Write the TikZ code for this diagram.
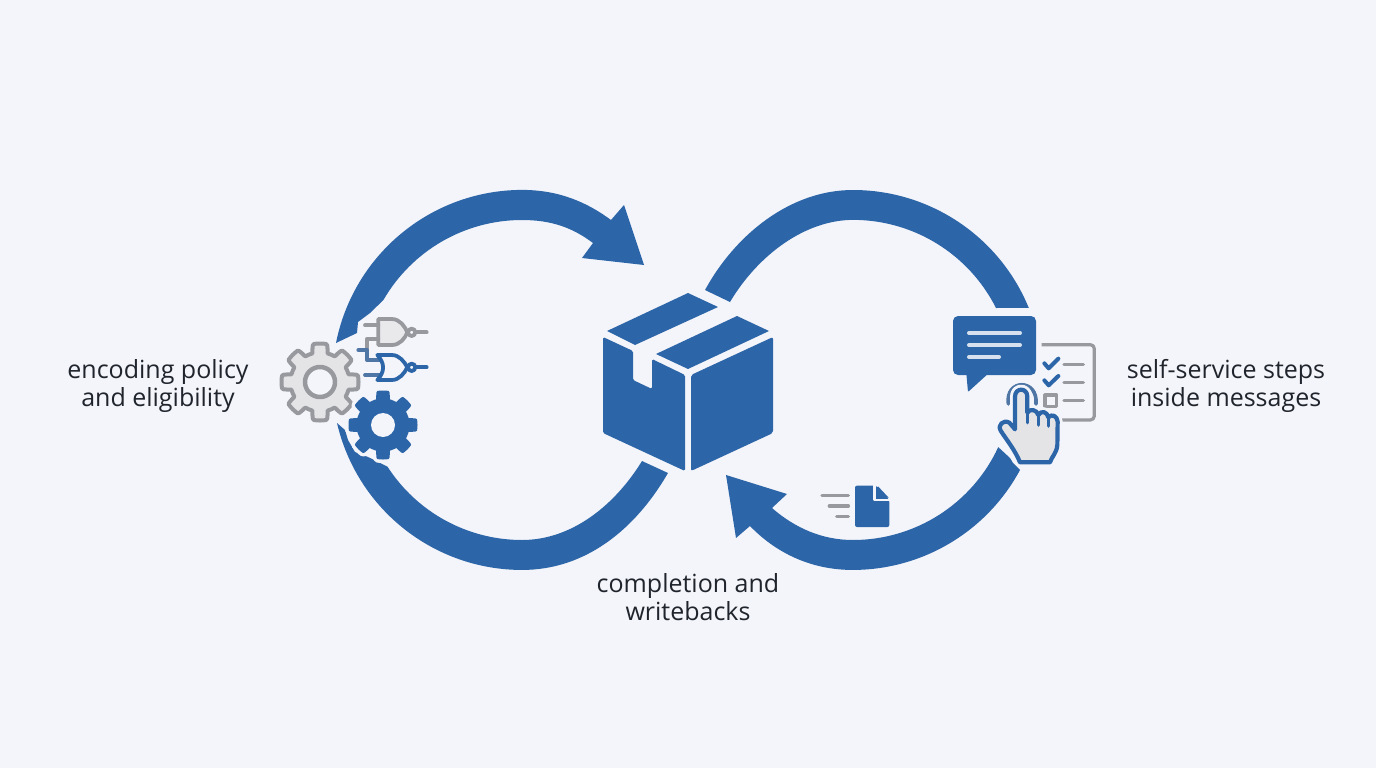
\documentclass[tikz,border=0pt]{standalone}
\usepackage{fontspec}
\setmainfont{Open Sans}
\definecolor{bg}{HTML}{F4F5FA}
\definecolor{bl}{HTML}{2C66A8}
\definecolor{gy}{HTML}{97999E}
\definecolor{lg}{HTML}{E4E4E6}
\definecolor{tx}{HTML}{20242C}
\definecolor{rg}{HTML}{4F76A4}
\tikzset{x=1pt,y=-1pt,
 lab/.style={font=\fontsize{25}{27.6}\selectfont,align=center,text=tx,inner sep=0},
 zoomA/.style={shift={(270,300)},x=.33333pt,y=-.33333pt},
 zoomB/.style={shift={(940,300)},x=.33333pt,y=-.33333pt},
 zoomC/.style={shift={(720,465)},x=.33333pt,y=-.33333pt},
 gatewire/.style={line width=3.8pt,line cap=round,line join=round},
 declare function={gu(\t)=abs(mod(\t+22.5,45)/45-0.5);
   gr(\t,\ro,\ri)=\ri+(\ro-\ri)*max(0,min(1,(0.335-gu(\t))/0.1));}}
\begin{document}
\begin{tikzpicture}[line join=round]
\useasboundingbox (0,0) rectangle (1376,768);
\fill[bg] (0,0) rectangle (1376,768);
% left ring, upper piece with arrowhead
\fill[bl] (336,343) arc[start angle=191.2,end angle=270,radius=190]
  .. controls (560,190) and (588,203) .. (611,220)
  -- (624,205) -- (644,265) -- (582,258) -- (593,243)
  .. controls (573,228) and (552,220) .. (522,220)
  arc[start angle=270,end angle=210,radius=160]
  -- (370,313) -- (358,322) -- (357,333) -- cycle;
% left ring, lower piece
\fill[bl] (337,423) arc[start angle=166.9,end angle=90,radius=190]
  .. controls (585,570) and (635,530) .. (668,473)
  -- (642,461)
  .. controls (615,505) and (572,540) .. (522,540)
  arc[start angle=90,end angle=147.2,radius=160]
  -- (368,457) -- (355,452) -- (348,440) -- (345,430) -- cycle;
% right ring, upper piece
\fill[bl] (705,290) .. controls (735,235) and (790,190) .. (853,190)
  arc[start angle=270,end angle=337.7,radius=190]
  -- (996,308)
  arc[start angle=333.3,end angle=270,radius=160]
  .. controls (805,220) and (758,255) .. (730,302) -- cycle;
% right ring, lower piece with arrowhead
\fill[bl] (1020,470) arc[start angle=28.3,end angle=90,radius=190]
  .. controls (810,570) and (775,552) .. (750,526)
  -- (736,538) -- (726,475) -- (787,494) -- (772,508)
  .. controls (795,528) and (822,540) .. (853,540)
  arc[start angle=90,end angle=24.8,radius=160]
  -- (1010,458) -- (1013,463) -- cycle;
% box
\fill[bl] (688,293) -- (718,307) -- (635,345) -- (607,331) -- cycle;
\fill[bl] (737,316) -- (769,331) -- (688,369) -- (656,354) -- cycle;
\fill[bl,rounded corners=2pt] (773,337) -- (773,433) -- (691,471) -- (691,375) -- cycle;
\fill[bl,rounded corners=1.5pt] (603,337) -- (633,351) -- (633,380) -- (652,389) -- (652,359)
  -- (685,375) -- (685,471) -- (603,433) -- cycle;
% grey gear
\draw[gy,line width=4pt,fill=lg] plot[domain=0:360,samples=193]
  ({320+gr(\x,38.5,29.5)*cos(\x)},{382+gr(\x,38.5,29.5)*sin(\x)}) -- cycle;
\draw[gy,line width=4.5pt,fill=bg] (320,382) circle[radius=15];
% blue gear
\draw[bg,line width=7pt,fill=bg] plot[domain=0:360,samples=193]
  ({383+gr(\x,34.5,26.5)*cos(\x)},{425+gr(\x,34.5,26.5)*sin(\x)}) -- cycle;
\fill[bl] plot[domain=0:360,samples=193]
  ({383+gr(\x,34.5,26.5)*cos(\x)},{425+gr(\x,34.5,26.5)*sin(\x)}) -- cycle;
\fill[bg] (383,425) circle[radius=12];
% logic gates
\begin{scope}[zoomA]
 \draw[gy,gatewire,fill=lg!70!bg] (325,57) -- (365,57) .. controls (390,57) and (405,80) .. (412,97)
   .. controls (405,115) and (390,135) .. (365,135) -- (325,135) -- cycle;
 \draw[gy,gatewire] (425,97) circle[radius=11];
 \draw[gy,gatewire] (436,97) -- (470,97);
 \draw[gy,gatewire] (285,76) -- (325,76);
 \draw[gy,gatewire] (325,118) -- (290,118) -- (290,150);
 \draw[rg,gatewire] (265,150) -- (290,150) -- (290,180) -- (330,180);
 \draw[rg,gatewire] (285,225) -- (335,225);
 \draw[bl,gatewire,fill=bg] (322,165) -- (365,165) .. controls (388,165) and (403,185) .. (412,202)
   .. controls (403,220) and (388,240) .. (365,240) -- (322,240)
   .. controls (345,215) and (345,190) .. (322,165) -- cycle;
 \draw[bl,gatewire] (425,202) circle[radius=11];
 \draw[bl,gatewire] (436,202) -- (470,202);
\end{scope}
% chat bubble
\fill[bl,rounded corners=5pt] (953,316) rectangle (1036,375);
\fill[bl,rounded corners=1pt] (966,370) -- (968,392) -- (990,372) -- cycle;
\draw[bg!85!bl,line width=4pt,line cap=round] (969,333) -- (1020,333);
\draw[bg!85!bl,line width=4pt,line cap=round] (969,345) -- (1020,345);
\draw[bg!85!bl,line width=4pt,line cap=round] (969,357) -- (999,357);
% checklist, touch, hand
\begin{scope}[zoomB]
 \draw[gy,line width=3.2pt,rounded corners=4pt] (305,134) -- (463,134) -- (463,360) -- (355,360);
 \draw[bl,line width=4pt,line cap=round] (313,190) -- (326,205) -- (355,176);
 \draw[bl,line width=4pt,line cap=round] (313,241) -- (326,256) -- (355,228);
 \draw[gy,line width=3.2pt] (315,285) rectangle (350,320);
 \draw[gy,line width=3.4pt,line cap=round] (372,193) -- (430,193);
 \draw[gy,line width=3.4pt,line cap=round] (372,247) -- (430,247);
 \draw[gy,line width=3.4pt,line cap=round] (372,301) -- (430,301);
 \draw[rg,line width=3.6pt,line cap=round] (205,312) .. controls (195,235) and (295,235) .. (288,312);
 \def\handpath{(225,290) .. controls (225,262) and (262,262) .. (262,290) -- (262,338)
   .. controls (270,325) and (290,328) .. (295,345)
   .. controls (303,330) and (322,335) .. (325,352)
   .. controls (335,340) and (352,348) .. (353,365)
   -- (352,435) .. controls (350,460) and (335,470) .. (330,487) -- (240,487)
   .. controls (225,450) and (200,420) .. (182,392)
   .. controls (172,375) and (190,358) .. (208,368) -- (225,388) -- cycle}
 \draw[bg,line width=10pt] \handpath;
 \draw[bl,line width=4.2pt,fill=lg] \handpath;
 \draw[bl,line width=3.6pt,line cap=round] (262,338) -- (262,368);
 \draw[bl,line width=3.6pt,line cap=round] (295,345) -- (295,375);
 \draw[bl,line width=3.6pt,line cap=round] (325,352) -- (325,378);
\end{scope}
% document icon
\begin{scope}[zoomC]
 \fill[bl,rounded corners=2pt] (405,62) -- (470,62) -- (508,105) -- (508,186) -- (405,186) -- cycle;
 \draw[bg,line width=2.6pt] (463,58) -- (463,105) -- (512,105);
 \fill[bl] (474,64) -- (506,98) -- (474,98) -- cycle;
 \draw[gy,line width=3.4pt,line cap=round] (306,92) -- (385,92);
 \draw[gy,line width=3.4pt,line cap=round] (328,123) -- (385,123);
 \draw[gy,line width=3.4pt,line cap=round] (350,155) -- (385,155);
\end{scope}
% labels
\node[lab] (policy) at (158,386) {encoding policy\\and eligibility};
\node[lab] (selfserv) at (1226,386) {self-service steps\\inside messages};
\node[lab] (complete) at (688,597) {completion and\\writebacks};
\end{tikzpicture}
\end{document}
